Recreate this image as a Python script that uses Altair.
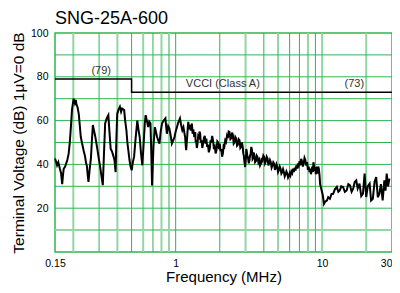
import altair as alt
import pandas as pd

# ---- data ----
noise_freq = [0.150, 0.153, 0.155, 0.158, 0.162, 0.165, 0.168, 0.170, 0.172, 0.176, 0.182, 0.186, 0.189, 0.193,
              0.196, 0.201, 0.205, 0.208, 0.210, 0.214, 0.218, 0.222, 0.225, 0.229, 0.235, 0.240, 0.244, 0.248,
              0.251, 0.254, 0.259, 0.264, 0.268, 0.272, 0.276, 0.282, 0.287, 0.292, 0.298, 0.305, 0.311, 0.318,
              0.324, 0.330, 0.338, 0.347, 0.353, 0.360, 0.367, 0.375, 0.382, 0.389, 0.394, 0.399, 0.407, 0.416,
              0.424, 0.431, 0.445, 0.452, 0.461, 0.468, 0.475, 0.484, 0.492, 0.501, 0.510, 0.520, 0.533, 0.547,
              0.557, 0.568, 0.580, 0.592, 0.605, 0.616, 0.624, 0.636, 0.649, 0.660, 0.673, 0.682, 0.690, 0.705,
              0.721, 0.733, 0.747, 0.760, 0.775, 0.790, 0.807, 0.828, 0.851, 0.862, 0.871, 0.889, 0.906, 0.925,
              0.942, 0.962, 0.982, 1.00, 1.02, 1.04, 1.07, 1.09, 1.11, 1.13,
              1.16, 1.17, 1.18, 1.19, 1.20, 1.21, 1.22, 1.235, 1.25, 1.27, 1.29, 1.305, 1.32, 1.34, 1.36, 1.37,
              1.38, 1.395, 1.41, 1.425, 1.44, 1.455, 1.47, 1.485, 1.50, 1.52, 1.54, 1.56, 1.58, 1.60, 1.62, 1.64,
              1.66, 1.685, 1.71, 1.73, 1.75, 1.775, 1.80, 1.825, 1.85, 1.875, 1.90, 1.925, 1.95, 1.975, 2.00, 2.025,
              2.05, 2.075, 2.10, 2.125, 2.15, 2.18, 2.21, 2.24, 2.27, 2.30, 2.33, 2.365, 2.40, 2.43, 2.46, 2.49,
              2.52, 2.555, 2.59, 2.625, 2.66, 2.695, 2.73, 2.765, 2.80, 2.835, 2.87, 2.895, 2.92, 2.95, 2.98, 3.00,
              3.02, 3.035, 3.05, 3.085, 3.12, 3.155, 3.19, 3.22, 3.25, 3.285, 3.32, 3.35, 3.38, 3.41, 3.44, 3.485,
              3.53, 3.575, 3.62, 3.67, 3.72, 3.77, 3.82, 3.87, 3.92, 3.97, 4.02, 4.075, 4.13, 4.185, 4.24, 4.295,
              4.35, 4.405, 4.46, 4.52, 4.58, 4.64, 4.70, 4.76, 4.82, 4.88, 4.94, 5.00, 5.07, 5.135, 5.20, 5.27,
              5.34, 5.41, 5.48, 5.555, 5.63, 5.705, 5.78, 5.855, 5.93, 6.005, 6.08, 6.165, 6.25, 6.33, 6.41, 6.495,
              6.58, 6.665, 6.75, 6.835, 6.92, 7.01, 7.10, 7.195, 7.29, 7.385, 7.48, 7.58, 7.68, 7.785, 7.89, 8.00,
              8.10, 8.20, 8.30, 8.385, 8.47, 8.56, 8.65, 8.72, 8.80, 8.885, 8.97, 9.05, 9.14, 9.22, 9.31, 9.40,
              9.50, 9.60, 9.69, 9.85, 10.1, 10.3, 10.5, 10.8, 11.0, 11.3, 11.6, 11.9, 12.2, 12.6, 12.9,
              13.2, 13.5, 13.9, 14.3, 14.7, 15.1, 15.5, 15.9, 16.3, 16.7, 17.1, 17.5, 18.0, 18.5, 19.0, 19.5,
              20.0, 20.5, 21.1, 21.6, 22.2, 22.8, 23.4, 24.0, 24.6, 25.2, 25.9, 26.6, 27.1, 27.6, 28.2, 28.8]
noise_db = [42.7, 41, 39.6, 41, 38, 36, 31, 35, 38, 39, 42, 45, 49.5, 58,
            65, 70, 68, 69.5, 67.5, 66, 63, 57, 52.5, 50, 46.5, 44, 41, 39,
            35, 32, 38, 43, 51, 58, 56, 53, 50, 47, 43, 39, 35, 30.5,
            45, 58.7, 61, 62.5, 55, 47, 46, 44, 42, 36.5, 52, 63, 65, 66.3,
            64, 65.5, 64.8, 60, 55.6, 50, 46.5, 42, 39, 37.3, 41, 43.4, 52, 60,
            56, 52.5, 45, 39.6, 50, 59, 62.5, 60, 57, 59.5, 58.7, 45, 30.4, 48,
            57, 55, 52.5, 51, 49.5, 55, 58.7, 60, 61, 57, 54, 57.5, 56.4, 53,
            49.5, 51, 52.5, 55, 57, 59, 61, 58, 55.6, 57,
            52.5, 49, 46.5, 50, 53, 57, 59.4, 56, 58, 55.5, 58.7, 54, 56, 52.5, 54.8, 50,
            51, 47.5, 49.5, 53, 52.5, 55, 54, 50, 51, 47.5, 49.5, 52, 53, 49.5, 51.8, 48,
            49, 45.5, 47.2, 51, 50, 53, 51, 47, 48, 45, 46.5, 50.5, 50, 47, 49.5, 46,
            47, 43.5, 44.9, 48.5, 48, 51, 50.3, 53, 52, 55, 54.8, 51.5, 52, 54.5, 53.3, 49.5,
            50, 52.5, 51.8, 48.5, 49, 51.5, 51, 47.5, 48, 50, 48, 45, 44, 41, 38.8, 41,
            43, 47, 46.5, 44, 43, 40.5, 41.9, 44, 45, 48, 46.5, 42.5, 43, 45.5, 44.2, 41,
            41.5, 44, 43.4, 41, 42, 39.5, 40.4, 43, 42, 44, 43.4, 40.5, 41.5, 43.5, 42.7, 39.5,
            40.5, 42, 41.1, 38.5, 39.5, 41, 40.4, 37.5, 38.5, 40, 38.8, 36.5, 37.5, 39, 38.1, 35.8,
            36.5, 37.8, 36.5, 34.5, 35.5, 36.8, 35.8, 34, 34.8, 36, 35, 36.8, 36, 38, 36.5, 38.5,
            37.2, 39.5, 38.1, 40.5, 39.5, 41.5, 39.6, 42.5, 41.5, 39, 40.4, 43, 42, 39.5, 41.1, 37.5,
            39, 36.5, 38.1, 35.5, 37, 39, 36.5, 41, 39.5, 37, 38.8, 35.5, 37, 39, 35.8, 39,
            38, 35, 31, 29, 26, 22, 23, 23.6, 25, 24.3, 26.5, 26.6, 28.5, 29.7, 27.5,
            28.1, 30, 29.7, 27.5, 28.1, 31, 30.4, 27.5, 28.9, 32, 32.7, 29, 31.2, 25.5, 26.6, 35.8,
            25.1, 30, 31.2, 23.5, 24.3, 32, 34.2, 25, 26.6, 31, 23.6, 32.7, 28, 35.8, 30, 33.5]

limit_freq = [0.15, 0.5, 0.5, 30]
limit_db = [79, 79, 73, 73]

label_text = ["(79)", "VCCI (Class A)", "(73)"]
label_freq = [0.31, 2.1, 16.6]
label_db = [82.5, 76.5, 76.5]

grid_x_dark = [0.3, 0.5, 0.7, 1, 2, 4, 6, 7, 9]
grid_x_light = [0.2, 0.4, 0.6, 0.8, 0.9, 3, 5, 8, 10, 20]
grid_y_dark = [20, 30, 40, 50, 60, 70, 80, 90]
grid_y_light = [10]

x_ticks = [0.15, 1, 10, 30]
y_ticks = [20, 40, 60, 80, 100]

FONT = "Liberation Sans"
DARK_GREEN = "#2fb550"
LIGHT_GREEN = "#93d6a3"

xscale = alt.Scale(type="log", domain=[0.15, 30], nice=False)
yscale = alt.Scale(domain=[0, 100], nice=False, zero=False)

noise_df = pd.DataFrame({"f": noise_freq, "db": noise_db, "i": range(len(noise_freq))})
limit_df = pd.DataFrame({"f": limit_freq, "db": limit_db, "i": range(len(limit_freq))})
label_df = pd.DataFrame({"f": label_freq, "db": label_db, "t": label_text})

x_axis = alt.Axis(values=x_ticks, title="Frequency (MHz)", grid=False, ticks=False, domain=False,
                  labelFlush=False, labelOverlap=False, labelPadding=6, titlePadding=1,
                  labelFontSize=10.5, titleFontSize=15, labelExpr="datum.value + ''",
                  labelAlign={"expr": "datum.value == 30 ? 'right' : 'center'"},
                  labelFont=FONT, titleFont=FONT, titleFontWeight="normal",
                  labelColor="#000", titleColor="#000")
y_axis = alt.Axis(values=y_ticks, title="Terminal Voltage (dB) 1\u03bcV=0 dB", grid=False, ticks=False,
                  domain=False, labelFlush=False, labelOverlap=False, labelPadding=7, titlePadding=4,
                  labelFontSize=10.5, titleFontSize=15.5, labelFont=FONT, titleFont=FONT,
                  titleFontWeight="normal", labelColor="#000", titleColor="#000")

X = lambda: alt.X("f:Q", scale=xscale, axis=x_axis)
Y = lambda: alt.Y("db:Q", scale=yscale, axis=y_axis)


def vrules(vals, color, width):
    return alt.Chart(pd.DataFrame({"f": vals})).mark_rule(color=color, strokeWidth=width).encode(x=X())


def hrules(vals, color, width):
    return alt.Chart(pd.DataFrame({"db": vals})).mark_rule(color=color, strokeWidth=width).encode(y=Y())


noise = alt.Chart(noise_df).mark_line(color="#000", strokeWidth=2).encode(x=X(), y=Y(), order="i:Q")
limit = alt.Chart(limit_df).mark_line(color="#000", strokeWidth=1.5).encode(x=X(), y=Y(), order="i:Q")
labels = alt.Chart(label_df).mark_text(font=FONT, fontSize=11, color="#333").encode(x=X(), y=Y(), text="t:N")

chart = alt.layer(
    vrules(grid_x_light, LIGHT_GREEN, 2),
    hrules(grid_y_light, LIGHT_GREEN, 2),
    vrules(grid_x_dark, DARK_GREEN, 1),
    hrules(grid_y_dark, DARK_GREEN, 1),
    limit, noise, labels,
).properties(
    width=337, height=219,
    title=alt.TitleParams("SNG-25A-600", anchor="start", fontSize=18, fontWeight="normal",
                          font=FONT, color="#000", offset=0, frame="group"),
    autosize=alt.AutoSizeParams(type="none"),
    padding={"left": 47, "top": 25, "right": 0, "bottom": 33},
).configure_view(stroke=DARK_GREEN, strokeWidth=1.5)

chart.save("out.html", embed_options={"renderer": "svg", "actions": False})
